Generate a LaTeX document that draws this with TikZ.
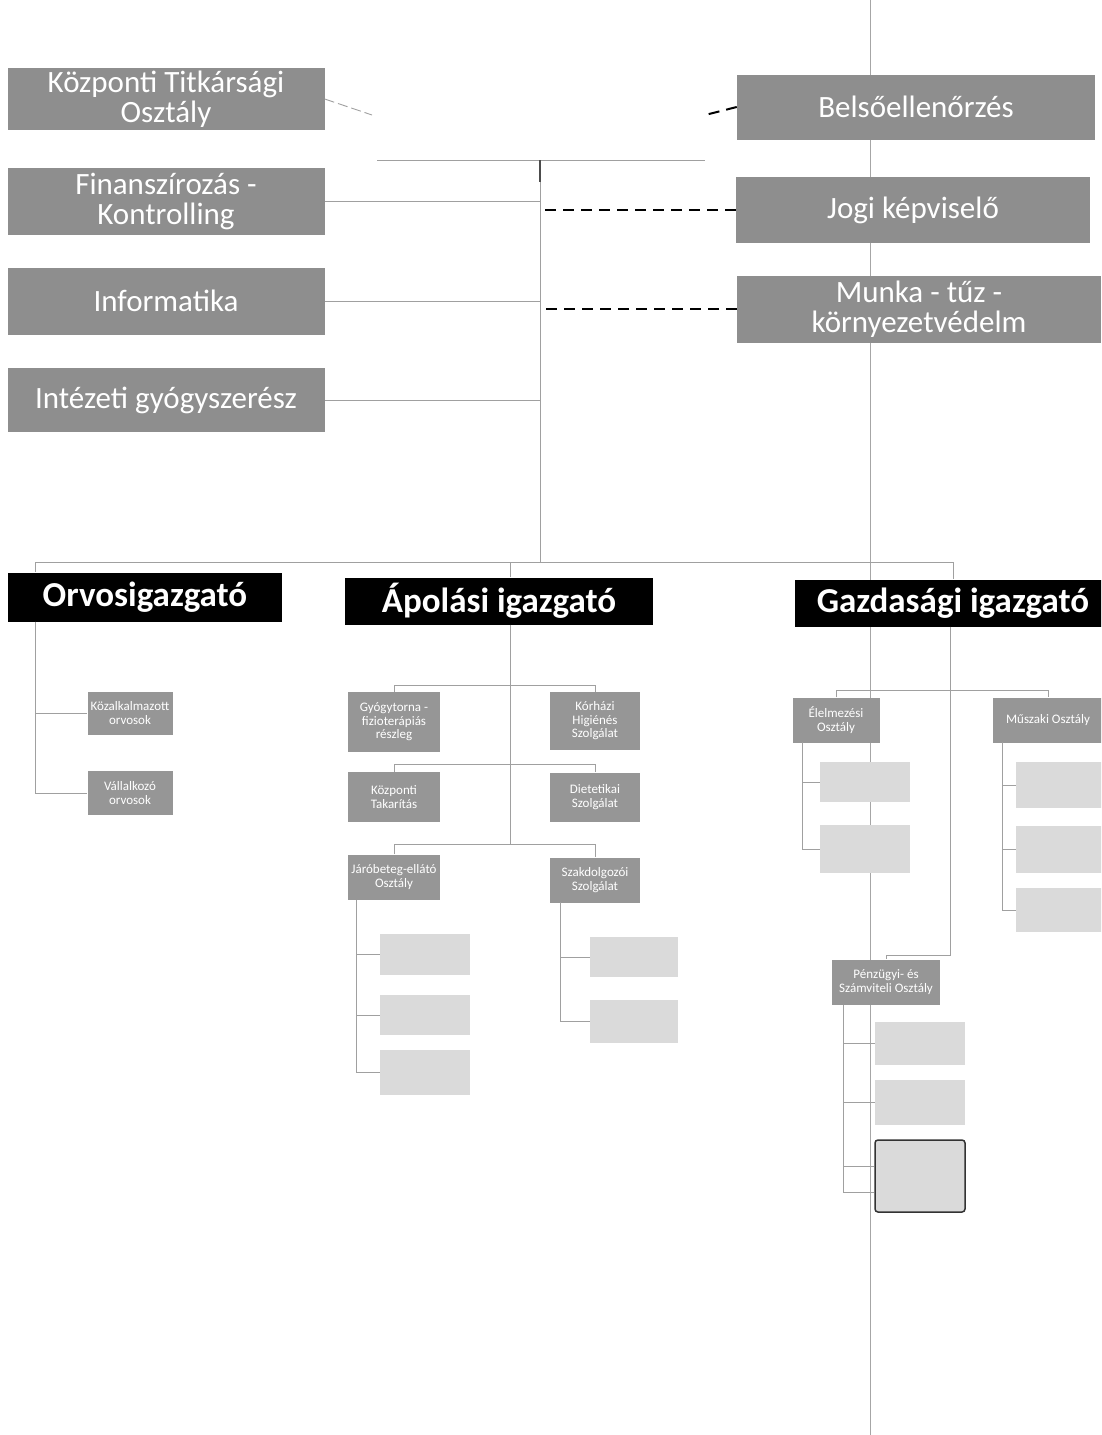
\documentclass[tikz,border=0pt]{standalone}
\usepackage{fontspec}
\setmainfont{Carlito}
\definecolor{boxgray}{RGB}{142,142,142}
\definecolor{subgray}{RGB}{150,150,150}
\definecolor{palegray}{RGB}{218,218,218}
\definecolor{linegray}{RGB}{160,160,160}
\tikzset{
  topbox/.style={fill=boxgray, text=white, align=center, inner sep=0pt, font=\fontsize{31}{30}\selectfont},
  headbox/.style={fill=black, text=white, align=center, inner sep=0pt, font=\fontsize{35}{36}\selectfont\bfseries},
  subbox/.style={fill=subgray, text=white, align=center, inner sep=0pt, font=\fontsize{13}{13.5}\selectfont},
  palebox/.style={fill=palegray, inner sep=0pt},
  conn/.style={draw=linegray, line width=0.9pt},
  dconn/.style={draw=black, line width=2pt, dash pattern=on 11pt off 7pt},
}
\newcommand\bx[7]{\node[#6, minimum width=#4pt, minimum height=#5pt] (#1) at (#2,#3) {#7};}
\begin{document}
\begin{tikzpicture}[x=1pt,y=-1pt]
\clip (0,0) rectangle (1101,1435);
\fill[white] (0,0) rectangle (1101,1435);
% page fold line
\coordinate (pl1) at (870,0);
\coordinate (pl2) at (870,1435);
\draw[gray!70, line width=0.8pt] (pl1) -- (pl2);
% top-left boxes
\bx{kto}{166}{99}{317}{62}{topbox}{Központi Titkársági\\Osztály}
\bx{fin}{166}{201}{317}{67}{topbox}{Finanszírozás -\\Kontrolling}
\bx{inf}{166}{301}{317}{67}{topbox}{Informatika}
\bx{gyog}{166}{400}{317}{64}{topbox}{Intézeti gyógyszerész}
% right boxes
\bx{bel}{916}{107}{358}{65}{topbox}{Belsőellenőrzés}
\bx{jog}{913}{210}{354}{66}{topbox}{Jogi képviselő}
\bx{mun}{919}{309}{364}{67}{topbox}{Munka - tűz -\\környezetvédelm}
% top spine
\coordinate (hl) at (377,160);
\coordinate (hr) at (705,160);
\coordinate (hc) at (540,160);
\coordinate (sb) at (540,562);
\coordinate (kd) at (372,115);
\coordinate (bd) at (705,115);
\draw[conn] (hl) -- (hr);
\draw[conn] (hc) -- (sb);
\draw[black!70, line width=1.6pt] (hc) -- ++(0,22);
\draw[conn, dash pattern=on 10pt off 4pt] (kto.east) -- (kd);
\draw[dconn] (bel.west) -- (bd);
\draw[conn] (fin.east) -- (fin.east -| hc);
\draw[conn] (inf.east) -- (inf.east -| hc);
\draw[conn] (gyog.east) -- (gyog.east -| hc);
\draw[dconn] (jog.west) -- (jog.west -| hc);
\draw[dconn] (mun.west) -- (mun.west -| hc);
% head boxes
\bx{orv}{145}{597}{274}{49}{headbox}{Orvosigazgató}
\bx{apo}{499}{601}{308}{47}{headbox}{Ápolási igazgató}
\bx{gaz}{953}{603}{316}{47}{headbox}{Gazdasági igazgató}
\coordinate (bl) at (35,562);
\coordinate (br) at (953,562);
\draw[conn] (bl) -- (br);
\draw[conn] (bl) -- (bl |- orv.north);
\draw[conn] (apo.north -| 510,0) -- (510,562);
\draw[conn] (br) -- (gaz.north);
% Orvosigazgato subtree
\bx{koz}{130}{713}{85}{43}{subbox}{Közalkalmazott\\orvosok}
\bx{val}{130}{793}{85}{44}{subbox}{Vállalkozó\\orvosok}
\draw[conn] (orv.south -| bl) |- (koz.west);
\draw[conn] (orv.south -| bl) |- (val.west);
% Apolasi subtree
\bx{gyo}{394}{722}{92}{60}{subbox}{Gyógytorna -\\fizioterápiás\\részleg}
\bx{kor}{595}{721}{90}{58}{subbox}{Kórházi\\Higiénés\\Szolgálat}
\bx{tak}{394}{797}{92}{50}{subbox}{Központi\\Takarítás}
\bx{die}{595}{797}{90}{49}{subbox}{Dietetikai\\Szolgálat}
\bx{jar}{394}{877}{92}{45}{subbox}{Járóbeteg-ellátó\\Osztály}
\bx{sza}{595}{880}{90}{45}{subbox}{Szakdolgozói\\Szolgálat}
\coordinate (as) at (510,845);
\draw[conn] (apo.south -| as) -- (as);
\draw[conn] (gyo.north) -- ++(0,-6) -| (kor.north);
\draw[conn] (tak.north) -- ++(0,-7) -| (die.north);
\draw[conn] (jar.north) -- ++(0,-10) -| (sza.north);
% Jaro children
\bx{ja}{425}{954}{90}{41}{palebox}{}
\bx{jb}{425}{1015}{90}{40}{palebox}{}
\bx{jc}{425}{1072}{90}{45}{palebox}{}
\coordinate (jv) at (356,900);
\draw[conn] (jv) |- (ja.west);
\draw[conn] (jv) |- (jb.west);
\draw[conn] (jv) |- (jc.west);
% Szakdolgozoi children
\bx{sa}{634}{957}{88}{40}{palebox}{}
\bx{sb2}{634}{1021}{88}{43}{palebox}{}
\coordinate (sv) at (560,902);
\draw[conn] (sv) |- (sa.west);
\draw[conn] (sv) |- (sb2.west);
% Gazdasagi subtree
\bx{ele}{836}{720}{87}{45}{subbox}{Élelmezési\\Osztály}
\bx{mus}{1048}{720}{111}{45}{subbox}{Műszaki Osztály}
\bx{pen}{886}{982}{108}{45}{subbox}{Pénzügyi- és\\Számviteli Osztály}
\draw[conn] (gaz.south -| 950,0) -- (950,955) -| (pen.north);
\draw[conn] (ele.north) -- ++(0,-7) -| (mus.north);
% Elelmezesi children
\bx{ea}{865}{782}{90}{40}{palebox}{}
\bx{eb}{865}{849}{90}{48}{palebox}{}
\coordinate (ev) at (802,742);
\draw[conn] (ev) |- (ea.west);
\draw[conn] (ev) |- (eb.west);
% Muszaki children
\bx{ma}{1063}{785}{94}{46}{palebox}{}
\bx{mb}{1063}{849}{94}{47}{palebox}{}
\bx{mc}{1063}{910}{94}{44}{palebox}{}
\coordinate (mv) at (1002,742);
\draw[conn] (mv) |- (ma.west);
\draw[conn] (mv) |- (mb.west);
\draw[conn] (mv) |- (mc.west);
% Penzugyi children
\bx{pa}{920}{1043}{90}{43}{palebox}{}
\bx{pb}{920}{1102}{90}{45}{palebox}{}
\bx{pc}{920}{1176}{90}{72}{palebox, draw=black!80, line width=1.5pt, rounded corners=3pt}{}
\coordinate (pv) at (843,1005);
\draw[conn] (pv) |- (pa.west);
\draw[conn] (pv) |- (pb.west);
\draw[conn] (pv) |- ([yshift=-16pt]pc.west);
\draw[conn] (pv) |- ([yshift=10pt]pc.west);
\end{tikzpicture}
\end{document}
